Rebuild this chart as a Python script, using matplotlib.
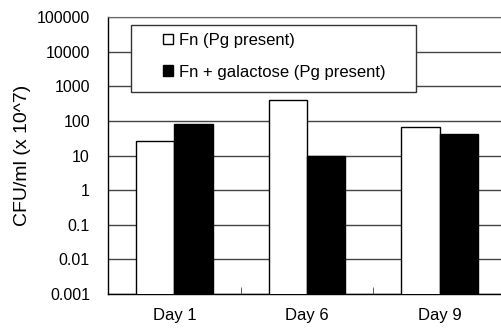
import matplotlib
matplotlib.use("Agg")
import matplotlib.pyplot as plt
import numpy as np
from matplotlib.patches import Rectangle

plt.rcParams['font.family'] = ['Liberation Sans', 'DejaVu Sans']

days = ["Day 1", "Day 6", "Day 9"]
fn_pg = [26, 400, 67]
fn_gal_pg = [80, 10, 43]
labels = ["Fn (Pg present)", "Fn + galactose (Pg present)"]
yticks = [0.001, 0.01, 0.1, 1, 10, 100, 1000, 10000, 100000]
ytick_labels = ["0.001", "0.01", "0.1", "1", "10", "100", "1000", "10000", "100000"]

fig = plt.figure(figsize=(5.01, 3.29), dpi=100)
ax = fig.add_axes([108/501, 1 - 294/329, 398/501, 277/329])

x = np.arange(len(days))
w = 0.29
b1 = ax.bar(x - w/2, fn_pg, w, color="white", edgecolor="black", linewidth=1, zorder=3)
b2 = ax.bar(x + w/2, fn_gal_pg, w, color="black", edgecolor="black", linewidth=1, zorder=3)

ax.set_yscale("log")
ax.set_ylim(0.001, 100000)
ax.set_xlim(-0.5, 2.5)
ax.set_yticks(yticks)
ax.set_yticklabels(ytick_labels, fontsize=11.5)
ax.yaxis.set_minor_locator(matplotlib.ticker.NullLocator())
ax.tick_params(axis="y", length=0, pad=13)
ax.yaxis.grid(True, color="#444444", linewidth=1, zorder=0)
ax.set_axisbelow(True)

ax.set_xticks(x)
ax.set_xticklabels(days, fontsize=12)
ax.tick_params(axis="x", length=0, pad=10)
# small inward ticks between categories
ax.set_xticks([0.5, 1.5], minor=True)
ax.tick_params(axis="x", which="minor", direction="in", length=5, color="#444444")

ax.set_ylabel("CFU/ml (x 10^7)", fontsize=14, labelpad=4)
ax.spines["right"].set_visible(False)
ax.spines["top"].set_color("#666666")
for s in ["left", "bottom"]:
    ax.spines[s].set_color("black")
    ax.spines[s].set_linewidth(1)

# legend with its own rectangular frame
fig.patches.append(Rectangle((131/501, 1 - 92/329), 285/501, 67/329, transform=fig.transFigure,
                             facecolor="white", edgecolor="#333333", linewidth=1, zorder=5))
leg = fig.legend([b1, b2], labels, loc="upper left", bbox_to_anchor=(163/501, 1 - 33/329),
                 frameon=False, fontsize=12, handlelength=0.6, handleheight=0.6,
                 handletextpad=0.35, labelspacing=1.0, borderpad=0, borderaxespad=0)
leg.set_zorder(6)

fig.savefig("out.png", dpi=100)
